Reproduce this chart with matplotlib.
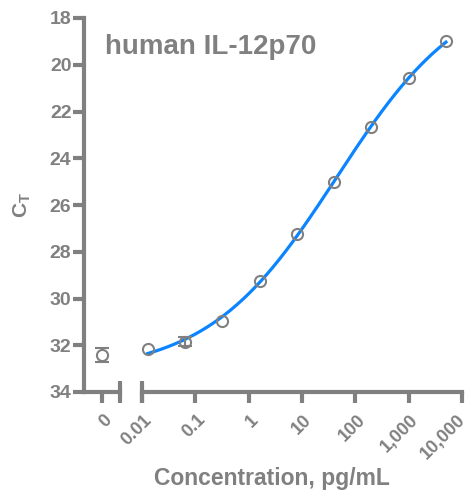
import numpy as np
import matplotlib.pyplot as plt
import matplotlib.transforms as mtransforms

plt.rcParams['font.family'] = ['Liberation Sans', 'DejaVu Sans']
plt.rcParams['font.weight'] = 'bold'

# data
conc = [0.0128, 0.064, 0.32, 1.6, 8, 40, 200, 1000, 5000]
ct = [32.17, 31.85, 30.95, 29.25, 27.25, 25.03, 22.66, 20.58, 18.98]
ct_err = [0, 0.2, 0, 0, 0, 0, 0, 0, 0]
blank_ct = 32.42
blank_err = 0.3
xtick_vals = [0.01, 0.1, 1, 10, 100, 1000, 10000]
xtick_labels = ['0.01', '0.1', '1', '10', '100', '1,000', '10,000']
yticks = [18, 20, 22, 24, 26, 28, 30, 32, 34]

gray = '#808080'
blue = '#0a84ff'
fs = 14
xfs = 13

fig = plt.figure(figsize=(4.66, 4.92), dpi=100)
ax0 = fig.add_axes([84/466, 1-392/492, 36/466, 374/492])
ax1 = fig.add_axes([142/466, 1-392/492, 320/466, 374/492])

for ax in (ax0, ax1):
    ax.set_ylim(34, 18)
    for s in ('top', 'right'):
        ax.spines[s].set_visible(False)
    for s in ('left', 'bottom'):
        ax.spines[s].set_linewidth(3)
        ax.spines[s].set_color(gray)
    ax.tick_params(colors=gray, width=3, length=8, pad=1)
    ax.tick_params(axis='x', pad=6)
    ax.patch.set_alpha(0)

ax1.spines['left'].set_visible(False)
ax1.tick_params(axis='y', left=False, labelleft=False)

# zero (blank) segment
ax0.set_xlim(-1, 1)
ax0.set_yticks(yticks)
ax0.set_yticklabels([str(v) for v in yticks], fontsize=fs, fontweight='bold')
ax0.set_xticks([0])
ax0.set_xticklabels(['0'], rotation=45, ha='right', rotation_mode='anchor',
                    fontsize=xfs, fontweight='bold')
ax0.errorbar([0], [blank_ct], yerr=[blank_err], fmt='o', mfc='white', mec=gray,
             ecolor=gray, mew=1.5, ms=8, capsize=5, elinewidth=1.5, capthick=1.5, clip_on=False)
ax0.plot([1], [34], marker='|', ms=16, mew=3, color=gray, clip_on=False)

# standard curve segment
ax1.set_xscale('log')
ax1.set_xlim(0.01, 10000)
ax1.set_xticks(xtick_vals)
ax1.set_xticklabels(xtick_labels, rotation=45, ha='right', rotation_mode='anchor',
                    fontsize=xfs, fontweight='bold')
ax1.minorticks_off()
ax1.plot([0.01], [34], marker='|', ms=16, mew=3, color=gray, clip_on=False)

labels = ax0.get_xticklabels() + ax1.get_xticklabels()
for i, lab in enumerate(labels):
    dx = -4 if i == len(labels) - 1 else 1
    lab.set_transform(lab.get_transform() +
                      mtransforms.ScaledTranslation(dx/72, 0, fig.dpi_scale_trans))

# 4PL fit: grid over (b, c), linear least squares for (a, d)
x = np.array(conc)
y = np.array(ct)
best = None
for b in np.linspace(0.2, 2.0, 91):
    for lc in np.linspace(-1, 5, 121):
        g = 1 / (1 + (x / 10**lc)**b)
        A = np.column_stack([g, 1 - g])
        sol, *_ = np.linalg.lstsq(A, y, rcond=None)
        r = np.sum((A @ sol - y)**2)
        if best is None or r < best[0]:
            best = (r, b, lc, sol)
_, b, lc, (a, d) = best
xs = np.logspace(np.log10(x[0]), np.log10(x[-1]), 300)
gs = 1 / (1 + (xs / 10**lc)**b)
ax1.plot(xs, a * gs + d * (1 - gs), color=blue, lw=2.3, zorder=2)

ax1.plot(conc, ct, 'o', mfc='none', mec=gray, mew=1.5, ms=8, zorder=3, clip_on=False)
err_idx = [i for i, e in enumerate(ct_err) if e > 0]
ax1.errorbar([conc[i] for i in err_idx], [ct[i] for i in err_idx],
             yerr=[ct_err[i] for i in err_idx], fmt='none', ecolor=gray,
             capsize=5, elinewidth=1.5, capthick=1.5, zorder=3)

fig.text(105/466, 1-47/492, 'human IL-12p70', color=gray, fontsize=20,
         fontweight='bold', va='center', ha='left')
fig.text(272/466, 1-478/492, 'Concentration, pg/mL', color=gray, fontsize=16.5,
         fontweight='bold', va='center', ha='center')
fig.text(22/466, 1-205/492, r'C$_\mathregular{T}$', color=gray, fontsize=15,
         fontweight='bold', va='center', ha='center', rotation=90)

fig.savefig('out.png', dpi=100)
